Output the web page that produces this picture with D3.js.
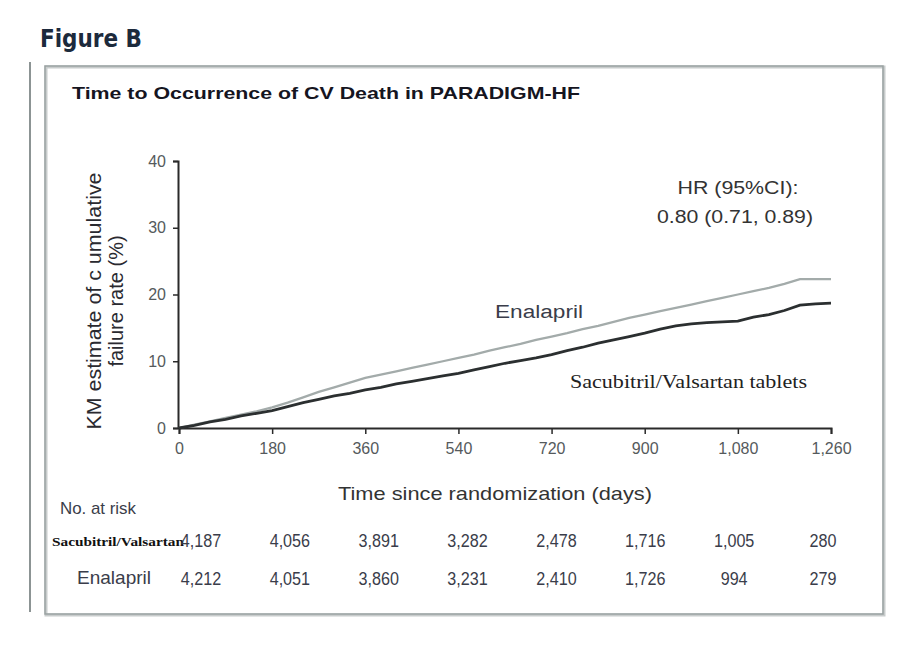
<!DOCTYPE html>
<html><head><meta charset="utf-8">
<script src="https://cdn.jsdelivr.net/npm/d3@7/dist/d3.min.js"></script>
<style>body{margin:0;background:#fff;}svg{display:block;}</style>
</head><body>
<svg id="c" width="901" height="657"></svg>
<script>
const days = [0,30,60,90,120,150,180,210,240,270,300,330,360,390,420,450,480,510,540,570,600,630,660,690,720,750,780,810,840,870,900,930,960,990,1020,1050,1080,1110,1140,1170,1200,1230,1260];
const enalapril = [0,0.5,1.0,1.5,2.0,2.5,3.1,3.8,4.6,5.4,6.1,6.8,7.5,8.0,8.5,9.0,9.5,10.0,10.5,11.0,11.6,12.1,12.6,13.2,13.7,14.2,14.8,15.3,15.9,16.5,17.0,17.5,18.0,18.5,19.0,19.5,20.0,20.5,21.0,21.6,22.3,22.3,22.3];
const sacubitril = [0,0.4,0.9,1.3,1.8,2.2,2.6,3.2,3.8,4.3,4.8,5.2,5.7,6.1,6.6,7.0,7.4,7.8,8.2,8.7,9.2,9.7,10.1,10.5,11.0,11.6,12.1,12.7,13.2,13.7,14.2,14.8,15.3,15.6,15.8,15.9,16.0,16.6,17.0,17.6,18.4,18.6,18.7];
const xTicks = [0,180,360,540,720,900,1080,1260];
const yTicks = [0,10,20,30,40];
const riskRows = ["Sacubitril/Valsartan","Enalapril"];
const riskSac = ["4,187","4,056","3,891","3,282","2,478","1,716","1,005","280"];
const riskEna = ["4,212","4,051","3,860","3,231","2,410","1,726","994","279"];

const svg = d3.select("#c");
const SANS = "'Liberation Sans', Arial, sans-serif";

// frame
svg.append("line").attr("x1",30).attr("x2",30).attr("y1",62).attr("y2",612).attr("stroke","#8c9494").attr("stroke-width",2);
svg.append("rect").attr("x",46).attr("y",67).attr("width",838).attr("height",548).attr("fill","none").attr("stroke","#c8cccc").attr("stroke-width",3);
svg.append("rect").attr("x",45).attr("y",66).attr("width",838).attr("height",548).attr("fill","none").attr("stroke","#9aa2a2").attr("stroke-width",1.5);

svg.append("text").attr("x",40).attr("y",47).text("Figure B")
  .attr("font-family","'DejaVu Sans Condensed','DejaVu Sans',sans-serif").attr("font-weight","bold").attr("font-size",25).attr("fill","#1c2a3c")
  .attr("textLength",102).attr("lengthAdjust","spacingAndGlyphs");
svg.append("text").attr("x",72).attr("y",99).text("Time to Occurrence of CV Death in PARADIGM-HF")
  .attr("font-family",SANS).attr("font-weight","bold").attr("font-size",17).attr("fill","#15151f")
  .attr("textLength",508).attr("lengthAdjust","spacingAndGlyphs");

const x = d3.scaleLinear().domain([0,1260]).range([179,831]);
const y = d3.scaleLinear().domain([0,40]).range([428,161]);

const gx = svg.append("g").attr("transform","translate(0,428)")
  .call(d3.axisBottom(x).tickValues(xTicks).tickFormat(d3.format(",")).tickSizeOuter(0).tickSize(6).tickPadding(9));
const gy = svg.append("g").attr("transform","translate(178,0)")
  .call(d3.axisLeft(y).tickValues(yTicks).tickSizeOuter(0).tickSize(5).tickPadding(7));
[gx,gy].forEach(g=>{
  g.select(".domain").attr("stroke","#2a2a2a").attr("stroke-width",2);
  g.selectAll(".tick line").attr("stroke","#2a2a2a").attr("stroke-width",1.5);
  g.selectAll(".tick text").attr("font-family",SANS).attr("font-size",16).attr("fill","#555a5c");
});

// y label
const yl = svg.append("g").attr("transform","translate(0,301) rotate(-90)");
yl.append("text").attr("x",0).attr("y",101).attr("text-anchor","middle").text("KM estimate of c umulative")
  .attr("font-family",SANS).attr("font-size",20).attr("fill","#2a2a30")
  .attr("textLength",257).attr("lengthAdjust","spacingAndGlyphs");
yl.append("text").attr("x",0).attr("y",123).attr("text-anchor","middle").text("failure rate (%)")
  .attr("font-family",SANS).attr("font-size",20).attr("fill","#2a2a30");

svg.append("text").attr("x",495).attr("y",500).attr("text-anchor","middle").text("Time since randomization (days)")
  .attr("font-family",SANS).attr("font-size",19).attr("fill","#333")
  .attr("textLength",314).attr("lengthAdjust","spacingAndGlyphs");

// curves
const line = d3.line().x(d=>x(d[0])).y(d=>y(d[1])).curve(d3.curveLinear);
svg.append("path").datum(days.map((d,i)=>[d,enalapril[i]])).attr("d",line)
  .attr("fill","none").attr("stroke","#a3abaa").attr("stroke-width",2.3);
svg.append("path").datum(days.map((d,i)=>[d,sacubitril[i]])).attr("d",line)
  .attr("fill","none").attr("stroke","#2b2f30").attr("stroke-width",2.8);

// annotations
svg.append("text").attr("x",738).attr("y",194).attr("text-anchor","middle").text("HR (95%CI):")
  .attr("font-family",SANS).attr("font-size",18).attr("fill","#333")
  .attr("textLength",121).attr("lengthAdjust","spacingAndGlyphs");
svg.append("text").attr("x",735).attr("y",223).attr("text-anchor","middle").text("0.80 (0.71, 0.89)")
  .attr("font-family",SANS).attr("font-size",18).attr("fill","#333")
  .attr("textLength",156).attr("lengthAdjust","spacingAndGlyphs");
svg.append("text").attr("x",495).attr("y",318).text("Enalapril")
  .attr("font-family",SANS).attr("font-size",18).attr("fill","#3a3d4a")
  .attr("textLength",88).attr("lengthAdjust","spacingAndGlyphs");
svg.append("text").attr("x",570).attr("y",388).text("Sacubitril/Valsartan tablets")
  .attr("font-family","'Liberation Serif','Times New Roman',serif").attr("font-size",18).attr("fill","#222")
  .attr("textLength",237).attr("lengthAdjust","spacingAndGlyphs");

// at risk table
svg.append("text").attr("x",60).attr("y",514).text("No. at risk")
  .attr("font-family",SANS).attr("font-size",17).attr("fill","#3a3d4a")
  .attr("textLength",76).attr("lengthAdjust","spacingAndGlyphs");
const col = d3.scalePoint().domain(d3.range(riskSac.length)).range([201,823]);
svg.append("text").attr("x",52).attr("y",546).text(riskRows[0])
  .attr("font-family","'Liberation Serif',serif").attr("font-weight","bold").attr("font-size",12).attr("fill","#111")
  .attr("textLength",132).attr("lengthAdjust","spacingAndGlyphs");
svg.append("text").attr("x",114).attr("y",584).attr("text-anchor","middle").text(riskRows[1])
  .attr("font-family",SANS).attr("font-size",19).attr("fill","#3a3d4a")
  .attr("textLength",74).attr("lengthAdjust","spacingAndGlyphs");
[[riskSac,547],[riskEna,585]].forEach(([vals,yy])=>{
  svg.append("g").selectAll("text").data(vals).join("text")
    .attr("x",(d,i)=>col(i)).attr("y",yy).attr("text-anchor","middle").text(d=>d)
    .attr("font-family",SANS).attr("font-size",19).attr("fill","#3a3d4a")
    .attr("transform",(d,i)=>`translate(${col(i)},0) scale(0.85,1) translate(${-col(i)},0)`);
});
</script>
</body></html>
